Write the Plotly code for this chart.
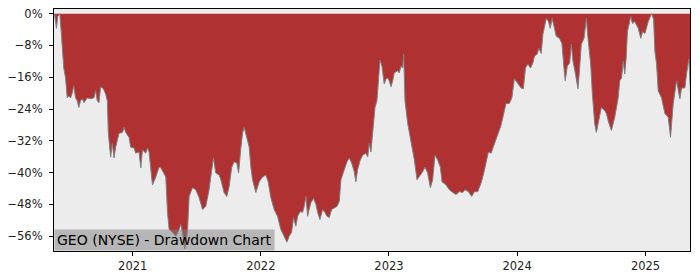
import datetime as dt
import plotly.graph_objects as go

# Time as decimal years, drawdown in percent
dec_year = [
    2020.391, 2020.398, 2020.406, 2020.416, 2020.432, 2020.443, 2020.451, 2020.463, 2020.477, 2020.490,
    2020.502, 2020.516, 2020.529, 2020.541, 2020.555, 2020.568, 2020.580, 2020.594, 2020.607, 2020.620,
    2020.646, 2020.672, 2020.698, 2020.711, 2020.724, 2020.737, 2020.750, 2020.771, 2020.789, 2020.802,
    2020.810, 2020.828, 2020.841, 2020.854, 2020.867, 2020.880, 2020.893, 2020.920, 2020.932, 2020.945,
    2020.971, 2020.984, 2021.010, 2021.023, 2021.049, 2021.063, 2021.076, 2021.102, 2021.115, 2021.127,
    2021.141, 2021.154, 2021.180, 2021.205, 2021.219, 2021.245, 2021.258, 2021.271, 2021.284, 2021.310,
    2021.336, 2021.362, 2021.375, 2021.388, 2021.406, 2021.427, 2021.440, 2021.466, 2021.492, 2021.518,
    2021.545, 2021.570, 2021.596, 2021.609, 2021.630, 2021.648, 2021.674, 2021.688, 2021.713, 2021.734,
    2021.752, 2021.773, 2021.791, 2021.813, 2021.826, 2021.844, 2021.857, 2021.870, 2021.891, 2021.909,
    2021.922, 2021.935, 2021.961, 2021.987, 2022.013, 2022.039, 2022.057, 2022.078, 2022.104, 2022.130,
    2022.156, 2022.182, 2022.203, 2022.221, 2022.240, 2022.255, 2022.273, 2022.287, 2022.307, 2022.326,
    2022.338, 2022.352, 2022.365, 2022.377, 2022.391, 2022.412, 2022.430, 2022.443, 2022.461, 2022.482,
    2022.500, 2022.516, 2022.534, 2022.552, 2022.573, 2022.594, 2022.612, 2022.625, 2022.651, 2022.672,
    2022.690, 2022.709, 2022.729, 2022.742, 2022.755, 2022.776, 2022.795, 2022.820, 2022.834, 2022.846,
    2022.859, 2022.873, 2022.891, 2022.906, 2022.916, 2022.924, 2022.930, 2022.945, 2022.963, 2022.977,
    2022.990, 2023.002, 2023.016, 2023.029, 2023.041, 2023.068, 2023.080, 2023.094, 2023.107, 2023.115,
    2023.125, 2023.146, 2023.172, 2023.198, 2023.219, 2023.237, 2023.263, 2023.281, 2023.302, 2023.323,
    2023.341, 2023.359, 2023.380, 2023.401, 2023.414, 2023.445, 2023.471, 2023.498, 2023.523, 2023.549,
    2023.576, 2023.594, 2023.620, 2023.646, 2023.666, 2023.693, 2023.719, 2023.740, 2023.758, 2023.776,
    2023.797, 2023.823, 2023.849, 2023.875, 2023.901, 2023.914, 2023.940, 2023.959, 2023.979, 2024.005,
    2024.031, 2024.049, 2024.065, 2024.084, 2024.104, 2024.123, 2024.135, 2024.156, 2024.170, 2024.188,
    2024.201, 2024.227, 2024.245, 2024.258, 2024.273, 2024.291, 2024.305, 2024.330, 2024.349, 2024.365,
    2024.375, 2024.391, 2024.409, 2024.422, 2024.435, 2024.453, 2024.474, 2024.487, 2024.500, 2024.521,
    2024.539, 2024.552, 2024.573, 2024.586, 2024.604, 2024.617, 2024.635, 2024.656, 2024.682, 2024.695,
    2024.713, 2024.734, 2024.760, 2024.787, 2024.799, 2024.813, 2024.826, 2024.838, 2024.849, 2024.859,
    2024.885, 2024.898, 2024.916, 2024.943, 2024.963, 2024.977, 2024.995, 2025.021, 2025.047, 2025.063,
    2025.073, 2025.086, 2025.099, 2025.125, 2025.151, 2025.177, 2025.195, 2025.216, 2025.242, 2025.268,
    2025.281, 2025.307, 2025.320, 2025.338, 2025.354,
]

drawdown_pct = [
    0.0, -2.0, -3.7, -0.7, 0.0, -4.5, -9.5, -13.7, -16.2, -21.2,
    -20.7, -21.2, -19.9, -18.2, -21.2, -21.9, -23.6, -21.9, -21.4, -22.4,
    -21.2, -21.4, -21.2, -19.4, -21.9, -22.4, -18.4, -18.9, -20.2, -21.9,
    -30.1, -36.1, -32.6, -36.3, -33.6, -31.9, -30.1, -29.9, -28.6, -29.9,
    -31.1, -33.6, -33.8, -35.1, -34.8, -38.8, -34.3, -35.1, -33.8, -34.8,
    -39.3, -43.1, -41.1, -38.6, -38.8, -40.1, -41.1, -50.0, -54.3, -55.0,
    -56.0, -54.3, -53.0, -55.0, -59.2, -55.0, -46.0, -43.8, -44.3, -46.3,
    -49.3, -48.5, -44.3, -41.1, -36.3, -40.1, -40.6, -41.8, -45.0, -46.0,
    -43.6, -38.6, -37.3, -37.6, -40.1, -33.8, -30.1, -28.6, -31.1, -33.6,
    -38.6, -41.8, -45.0, -42.3, -41.1, -40.6, -42.3, -46.3, -49.3, -51.0,
    -54.3, -56.0, -57.5, -56.0, -55.0, -51.3, -53.5, -51.0, -49.8, -50.0,
    -48.5, -46.0, -51.0, -49.3, -47.5, -46.5, -48.0, -50.0, -51.8, -49.3,
    -50.0, -51.0, -51.3, -49.3, -48.8, -48.5, -47.3, -41.8, -39.3, -37.3,
    -36.3, -37.6, -39.8, -42.3, -39.3, -36.8, -35.6, -35.1, -36.1, -32.6,
    -34.8, -30.1, -23.6, -21.9, -17.7, -12.7, -11.7, -13.2, -17.7, -16.4,
    -16.2, -16.9, -18.4, -16.9, -14.9, -14.4, -14.9, -13.2, -13.7, -10.2,
    -21.9, -27.6, -31.9, -36.8, -41.8, -41.1, -39.8, -38.6, -40.1, -43.8,
    -41.8, -35.6, -36.8, -38.6, -42.3, -43.1, -44.3, -45.0, -45.5, -44.8,
    -45.0, -44.3, -44.8, -46.0, -44.8, -44.8, -42.6, -40.1, -37.6, -34.8,
    -35.1, -32.6, -30.1, -28.1, -24.4, -22.6, -22.6, -21.2, -16.4, -17.7,
    -18.7, -18.9, -13.7, -12.7, -13.7, -12.4, -10.7, -10.2, -8.7, -10.0,
    -5.2, -1.2, -2.0, -3.7, -1.2, -3.7, -5.7, -6.2, -7.5, -13.7,
    -16.9, -13.2, -12.4, -7.7, -11.9, -14.9, -18.9, -13.7, -7.7, -6.2,
    -1.2, -6.2, -12.7, -20.2, -27.6, -29.9, -26.9, -23.6, -24.4, -25.1,
    -27.4, -29.4, -26.1, -21.2, -16.9, -16.2, -11.9, -15.2, -11.2, -4.5,
    -0.7, -2.5, -2.0, -3.7, -6.2, -4.5, -5.0, -2.0, 0.0, -1.5,
    -9.5, -12.7, -19.4, -21.2, -25.1, -26.1, -31.1, -22.6, -16.9, -21.4,
    -18.7, -18.7, -15.2, -11.4, -21.9,
]

y_tick_vals = [0, -8, -16, -24, -32, -40, -48, -56]
y_tick_text = ["0%", "\u22128%", "\u221216%", "\u221224%", "\u221232%", "\u221240%", "\u221248%", "\u221256%"]
x_tick_vals = ["2021-01-01", "2022-01-01", "2023-01-01", "2024-01-01", "2025-01-01"]
x_tick_text = ["2021", "2022", "2023", "2024", "2025"]
chart_label = "GEO (NYSE) - Drawdown Chart"


def to_date(y):
    yr = int(y)
    start = dt.datetime(yr, 1, 1)
    n = (dt.datetime(yr + 1, 1, 1) - start).days
    return start + dt.timedelta(days=(y - yr) * n)


dates = [to_date(v) for v in dec_year]

fig = go.Figure()
fig.add_trace(go.Scatter(
    x=dates, y=drawdown_pct, mode="lines",
    line=dict(color="#7f7f7f", width=1),
    fill="tozeroy", fillcolor="#b03131",
    hoverinfo="skip", showlegend=False,
))

axis_common = dict(
    showline=True, linecolor="black", linewidth=1.2, mirror=True,
    ticks="outside", ticklen=4, tickcolor="black", tickwidth=1,
    showgrid=False, zeroline=False,
    tickfont=dict(family="DejaVu Sans", size=11.5, color="#222222"),
)

fig.update_xaxes(
    range=[to_date(2020.387), to_date(2025.347)],
    tickvals=x_tick_vals, ticktext=x_tick_text,
    **axis_common,
)
fig.update_yaxes(
    range=[-59.73, 1.17],
    tickvals=y_tick_vals, ticktext=y_tick_text,
    ticklabelstandoff=4,
    **axis_common,
)

fig.add_annotation(
    xref="paper", yref="paper", x=0, y=0, xanchor="left", yanchor="bottom",
    text=chart_label, showarrow=False,
    font=dict(family="DejaVu Sans", size=14, color="black"),
    bgcolor="rgba(128,128,128,0.5)", borderpad=2,
)

fig.update_layout(
    width=700, height=280,
    margin=dict(l=53, r=10, t=7, b=28),
    paper_bgcolor="white", plot_bgcolor="#ececec",
)

fig.write_html("out.html")
